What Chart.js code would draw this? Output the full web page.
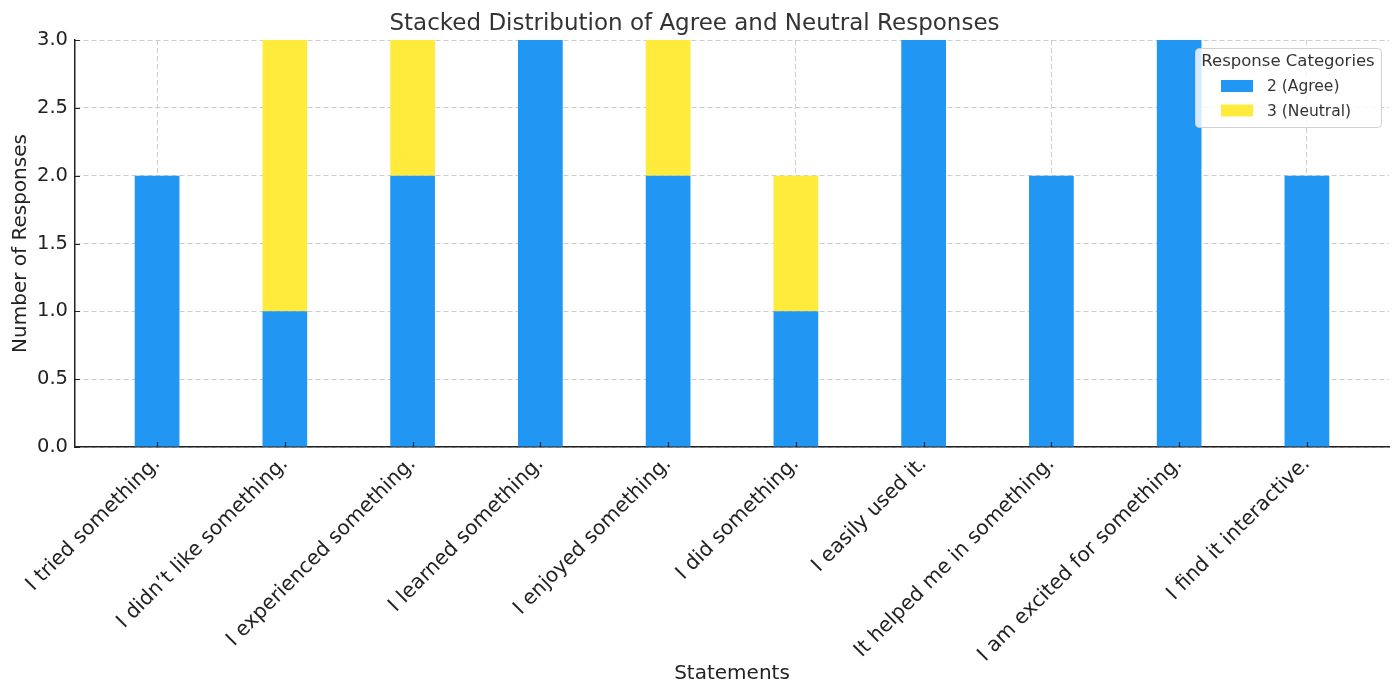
<!DOCTYPE html>
<html>
<head>
<meta charset="utf-8">
<title>Stacked Distribution of Agree and Neutral Responses</title>
<script src="https://cdn.jsdelivr.net/npm/chart.js@4.4.1/dist/chart.umd.min.js"></script>
<style>
  html, body { margin: 0; padding: 0; background: #fff; }
  #wrap { width: 1400px; height: 697px; }
</style>
</head>
<body>
<div id="wrap"><canvas id="myChart"></canvas></div>
<script>
const statements = [
  "I tried something.",
  "I didn’t like something.",
  "I experienced something.",
  "I learned something.",
  "I enjoyed something.",
  "I did something.",
  "I easily used it.",
  "It helped me in something.",
  "I am excited for something.",
  "I find it interactive."
];
const agreeCounts = [2, 1, 2, 3, 2, 1, 3, 2, 3, 2];
const neutralCounts = [0, 2, 1, 0, 1, 1, 0, 0, 0, 0];
const seriesLabels = ["2 (Agree)", "3 (Neutral)"];
const yTicks = [0, 0.5, 1, 1.5, 2, 2.5, 3];

const barColors = ["#2196F3", "#FFEB3B"];
const FONT = "'DejaVu Sans', Verdana, sans-serif";
Chart.defaults.font.family = FONT;
Chart.defaults.color = "#222";

// legend box drawn inside the plot, top right
const boxLegend = {
  id: "boxLegend",
  afterDraw(chart) {
    const ctx = chart.ctx;
    const area = chart.chartArea;
    const w = 186, h = 79;
    const x = area.right - 8 - w, y = area.top + 8;
    ctx.save();
    ctx.fillStyle = "rgba(255,255,255,0.8)";
    ctx.strokeStyle = "#d0d0d0";
    ctx.lineWidth = 1;
    ctx.beginPath();
    ctx.roundRect(x + 0.5, y + 0.5, w, h, 4);
    ctx.fill();
    ctx.stroke();
    ctx.fillStyle = "#333";
    ctx.font = "16.5px " + FONT;
    ctx.textBaseline = "middle";
    ctx.textAlign = "center";
    ctx.fillText("Response Categories", x + w / 2, y + 14);
    ctx.font = "15.5px " + FONT;
    ctx.textAlign = "left";
    chart.data.datasets.forEach((ds, i) => {
      const cy = y + 38 + i * 24.5;
      ctx.fillStyle = ds.backgroundColor;
      ctx.fillRect(x + 26, cy - 6, 32, 12);
      ctx.fillStyle = "#333";
      ctx.fillText(ds.label, x + 72, cy + 1);
    });
    ctx.restore();
  }
};

// short inward tick marks like the original axes
const innerTicks = {
  id: "innerTicks",
  afterDraw(chart) {
    const ctx = chart.ctx;
    const area = chart.chartArea;
    const xs = chart.scales.x, ys = chart.scales.y;
    ctx.save();
    ctx.strokeStyle = "#222";
    ctx.lineWidth = 1.2;
    ctx.beginPath();
    xs.ticks.forEach((t, i) => {
      const px = Math.round(xs.getPixelForTick(i)) + 0.5;
      ctx.moveTo(px, area.bottom);
      ctx.lineTo(px, area.bottom - 5);
    });
    ys.ticks.forEach((t, i) => {
      const py = Math.round(ys.getPixelForTick(i)) + 0.5;
      ctx.moveTo(area.left, py);
      ctx.lineTo(area.left + 5, py);
    });
    ctx.stroke();
    ctx.restore();
  }
};

new Chart("myChart", {
  type: "bar",
  data: {
    datasets: [
      {
        label: seriesLabels[0],
        backgroundColor: barColors[0],
        data: agreeCounts.map((v, i) => ({ x: i, y: v })),
      },
      {
        label: seriesLabels[1],
        backgroundColor: barColors[1],
        data: neutralCounts.map((v, i) => ({ x: i, y: v })),
      },
    ],
  },
  options: {
    responsive: true,
    maintainAspectRatio: false,
    animation: false,
    barPercentage: 0.35,
    categoryPercentage: 1,
    layout: { padding: { left: 0, right: 11, top: 0, bottom: 0 } },
    plugins: {
      legend: { display: false },
      tooltip: { enabled: false },
      title: {
        display: true,
        text: "Stacked Distribution of Agree and Neutral Responses",
        color: "#333",
        font: { size: 23, weight: "normal" },
        padding: { top: 10, bottom: 2.4 },
      },
    },
    scales: {
      x: {
        type: "linear",
        stacked: true,
        offset: false,
        min: -0.6425,
        max: 9.6425,
        z: 1,
        afterBuildTicks: (s) => {
          s.ticks = statements.map((_, i) => ({ value: i }));
        },
        afterFit: (s) => { s.height = 250; },
        ticks: {
          autoSkip: false,
          minRotation: 45,
          maxRotation: 45,
          padding: 5,
          color: "#222",
          font: { size: 20.3 },
          callback: (v) => statements[v],
        },
        grid: {
          offset: false,
          color: "#cccccc",
          lineWidth: 1,
          drawTicks: false,
        },
        border: { display: true, color: "#222", width: 1.5, dash: [5, 3] },
        title: {
          display: true,
          text: "Statements",
          color: "#222",
          font: { size: 20 },
          padding: { top: 0, bottom: 11.5 },
        },
      },
      y: {
        stacked: true,
        min: 0,
        max: 3,
        z: 1,
        afterBuildTicks: (s) => {
          s.ticks = yTicks.map((v) => ({ value: v }));
        },
        afterFit: (s) => { s.width = 75; },
        ticks: {
          padding: 7,
          color: "#222",
          font: { size: 19.5 },
          callback: (v) => Number(v).toFixed(1),
        },
        grid: {
          color: "#cccccc",
          lineWidth: 1,
          drawTicks: false,
        },
        border: { display: true, color: "#222", width: 1.5, dash: [5, 3] },
        title: {
          display: true,
          text: "Number of Responses",
          color: "#222",
          font: { size: 20 },
          padding: { top: 9, bottom: 0 },
        },
      },
    },
  },
  plugins: [boxLegend, innerTicks],
});
</script>
</body>
</html>
